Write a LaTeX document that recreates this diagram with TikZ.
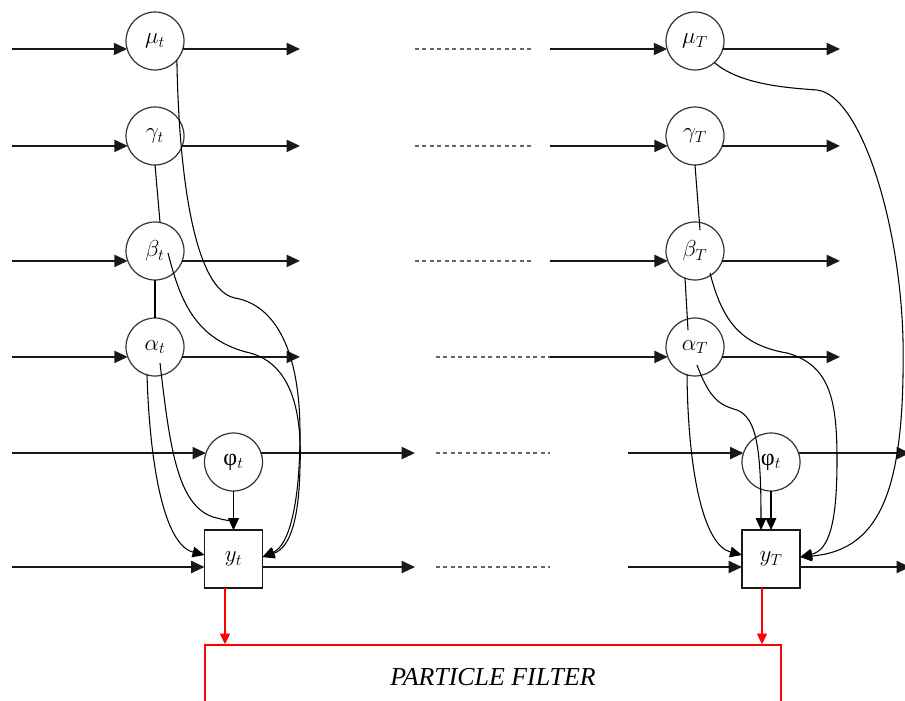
\documentclass[tikz,border=0pt]{standalone}
\usepackage{fontspec}
\newfontfamily\grk{Liberation Serif}
\newfontfamily\pffont{Liberation Serif}
\usetikzlibrary{arrows.meta,calc}
\begin{document}
\begin{tikzpicture}[x=0.75pt,y=-0.75pt,
  st/.style={circle,draw=black!80,line width=0.9pt,minimum size=43.5pt,inner sep=0pt,outer sep=0pt,font=\fontsize{18}{20}\selectfont},
  obs/.style={rectangle,draw=black!90,line width=0.9pt,minimum size=43.5pt,inner sep=0pt,outer sep=0pt,font=\fontsize{18}{20}\selectfont},
  harr/.style={line width=1.5pt,draw=black!90,-{Triangle[length=10pt,width=9pt]}},
  dots/.style={line width=1.5pt,draw=black!60,dash pattern=on 3pt off 2.6pt},
  link/.style={line width=0.8pt},
  carr/.style={line width=0.8pt,-{Triangle[length=9pt,width=8pt]}},
  rarr/.style={red,line width=0.9pt,-{Triangle[length=8pt,width=7.5pt]}}
]
\clip (0,0) rectangle (905,700);
\fill[white] (0,0) rectangle (905,700);
% column t
\node[st] (mu) at (155,41) {$\mu_t$};
\node[st] (ga) at (155,136) {$\gamma_t$};
\node[st] (be) at (155,251) {$\beta_t$};
\node[st] (al) at (155,347) {$\alpha_t$};
\node[st] (ph) at (233.5,462) {{\grk φ}$_t$};
\node[obs] (yt) at (233.5,559) {$y_t$};
% column T
\node[st] (muT) at (695,41) {$\mu_T$};
\node[st] (gaT) at (695,136) {$\gamma_T$};
\node[st] (beT) at (695,251) {$\beta_T$};
\node[st] (alT) at (695,347) {$\alpha_T$};
\node[st] (phT) at (771,462) {{\grk φ}$_t$};
\node[obs] (yT) at (771,559) {$y_T$};
% particle filter
\node[draw=red,line width=1.1pt,minimum width=432pt,minimum height=48.75pt,inner sep=0pt,font=\pffont\itshape\fontsize{19.4}{22}\selectfont] (pf) at (493,677.5) {PARTICLE FILTER};
% reference coordinates
\coordinate (L) at (12,0);
\coordinate (O1) at (300,0);
\coordinate (O2) at (415,0);
\coordinate (D1) at (415,0);
\coordinate (D2) at (531,0);
\coordinate (D3) at (436,0);
\coordinate (D4) at (550,0);
\coordinate (R1) at (550,0);
\coordinate (R2) at (628,0);
\coordinate (E1) at (840,0);
\coordinate (E2) at (910,0);
\coordinate (Y) at (0,567);
\coordinate (Y2) at (0,557);
\coordinate (Y3) at (0,555);
\coordinate (RL) at (225,0);
\coordinate (RR) at (762,0);
% rows mu, gamma, beta
\foreach \a/\b/\lo/\ro in {mu/muT/196/344, ga/gaT/200/340, be/beT/200/340}{
  \draw[harr] (\a.\lo -| L) -- (\a.\lo);
  \draw[harr] (\a.\ro) -- (\a.\ro -| O1);
  \draw[dots] (\a.\ro -| D1) -- (\a.\ro -| D2);
  \draw[harr] (\b.\lo -| R1) -- (\b.\lo);
  \draw[harr] (\b.\ro) -- (\b.\ro -| E1);
}
% row alpha
\draw[harr] (al.200 -| L) -- (al.200);
\draw[harr] (al.340) -- (al.340 -| O1);
\draw[dots] (al.340 -| D3) -- (al.340 -| D4);
\draw[harr] (alT.200 -| D4) -- (alT.200);
\draw[harr] (alT.340) -- (alT.340 -| E1);
% row phi
\draw[harr] (ph.162 -| L) -- (ph.162);
\draw[harr] (ph.18) -- (ph.18 -| O2);
\draw[dots] (ph.18 -| D3) -- (ph.18 -| D4);
\draw[harr] (phT.162 -| R2) -- (phT.162);
\draw[harr] (phT.18) -- (phT.18 -| E2);
% row y
\draw[harr] (L |- Y) -- (yt.west |- Y);
\draw[harr] (yt.east |- Y) -- (O2 |- Y);
\draw[dots] (D3 |- Y) -- (D4 |- Y);
\draw[harr] (R2 |- Y) -- (yT.west |- Y);
\draw[harr] (yT.east |- Y) -- (E2 |- Y);
% links column t
\draw[link] (ga.south) -- (be.80);
\draw[link] (be.south) -- (al.north);
\draw[carr] (mu.-41) .. controls (179,180) and (195,290) .. (235,298)
  .. controls (275,305) and (300,350) .. (300,433)
  .. controls (300,500) and (290,545) .. (yt.east |- Y2);
\draw[carr] ($(be)+(13,2)$) .. controls (180,300) and (195,340) .. (250,353)
  .. controls (295,365) and (302,420) .. (300,467)
  .. controls (299,520) and (290,548) .. (yt.east |- Y2);
\draw[carr] (al.-106) .. controls (150,470) and (165,545) .. (yt.west |- Y3);
\draw[carr] ($(al)+(5,16)$) .. controls (170,450) and (178,505) .. (213,517)
  .. controls (228,521) and (233.5,522) .. (yt.north);
\draw[carr] (ph.south) -- (yt.north);
% links column T
\draw[link] (gaT.south) -- ($(beT)+(5,-21)$);
\draw[link] ($(beT)+(-10,27)$) -- ($(alT)+(-7,-17)$);
\draw[carr] (muT.-48) .. controls (740,85) and (790,88) .. (817,90)
  .. controls (860,95) and (900,220) .. (903,340)
  .. controls (905,480) and (885,550) .. (yT.east |- Y2);
\draw[carr] ($(beT)+(15,22)$) .. controls (722,320) and (740,345) .. (787,353)
  .. controls (830,365) and (837,400) .. (837,460)
  .. controls (837,520) and (830,550) .. (yT.east |- Y2);
\draw[carr] (alT.-106) .. controls (688,470) and (703,545) .. (yT.west |- Y3);
\draw[carr] ($(alT)+(2,18)$) .. controls (710,400) and (720,405) .. (737,410)
  .. controls (757,418) and (761,450) .. ($(yT.north)+(-10,0)$);
\draw[carr] (phT.south) -- (yT.north);
% to particle filter
\draw[rarr] (yt.south -| RL) -- (pf.north -| RL);
\draw[rarr] (yT.south -| RR) -- (pf.north -| RR);
\end{tikzpicture}
\end{document}
